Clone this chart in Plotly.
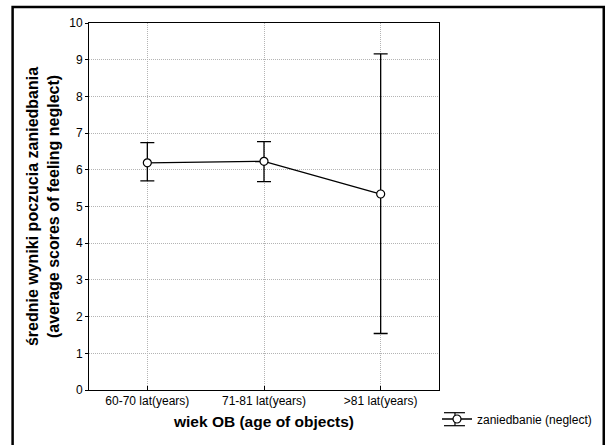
import plotly.graph_objects as go

categories = ["60-70 lat(years)", "71-81 lat(years)", ">81 lat(years)"]
means = [6.19, 6.23, 5.34]
upper = [6.74, 6.77, 9.16]
lower = [5.70, 5.68, 1.54]
series_name = "zaniedbanie (neglect)"

err_plus = [u - m for u, m in zip(upper, means)]
err_minus = [m - l for m, l in zip(means, lower)]

W, H = 610, 445
L, R, T, B = 88.5, 171, 23, 55
pw, ph = W - L - R, H - T - B

def px(x):
    return (x - L) / pw

def py(y):
    return (H - B - y) / ph

fig = go.Figure()
fig.add_trace(go.Scatter(
    x=list(range(len(categories))), y=means, name=series_name,
    mode="lines+markers",
    line=dict(color="black", width=1.3),
    marker=dict(symbol="circle", size=8, color="white", line=dict(color="black", width=1.2)),
    error_y=dict(type="data", symmetric=False, array=err_plus, arrayminus=err_minus,
                 color="black", thickness=1.3, width=7),
    showlegend=True,
))

font = "Liberation Sans, Arial, sans-serif"
gx = 455  # legend glyph centre (px)
glyph = dict(color="black", width=1.2)
fig.update_layout(
    width=W, height=H,
    margin=dict(l=L, r=R, t=T, b=B, pad=0),
    paper_bgcolor="white", plot_bgcolor="white",
    font=dict(family=font, size=12, color="black"),
    xaxis=dict(range=[-0.5, 2.5], tickvals=list(range(len(categories))), ticktext=categories,
               showgrid=True, gridcolor="#b4b4b4", griddash="1px,1px", gridwidth=1,
               showline=True, linecolor="black", linewidth=1, mirror=True,
               ticks="inside", ticklen=4, tickcolor="black", zeroline=False,
               tickfont=dict(size=12),
               title=dict(text="<b>wiek OB (age of objects)</b>", font=dict(size=15.5), standoff=8)),
    yaxis=dict(range=[0, 10], tickvals=list(range(0, 11)), showgrid=True, gridcolor="#b4b4b4",
               griddash="1px,1px", gridwidth=1, showline=True, linecolor="black", linewidth=1,
               mirror=True, ticks="outside", ticklen=3, tickcolor="black", zeroline=False,
               tickfont=dict(size=12),
               title=dict(text="<b>średnie wyniki poczucia zaniedbania<br>(average scores of feeling neglect)</b>",
                          font=dict(size=16), standoff=5)),
    legend=dict(x=px(437), y=py(419), xanchor="left", yanchor="middle",
                bgcolor="rgba(0,0,0,0)", font=dict(size=12), itemwidth=30,
                tracegroupgap=0),
    shapes=[
        dict(type="rect", xref="paper", yref="paper", x0=px(12), x1=px(604), y0=py(448), y1=py(7),
             line=dict(color="black", width=2.5), fillcolor="rgba(0,0,0,0)", layer="above"),
        dict(type="line", xref="paper", yref="paper", x0=px(gx - 11), x1=px(gx + 10),
             y0=py(412.7), y1=py(412.7), line=glyph),
        dict(type="line", xref="paper", yref="paper", x0=px(gx - 11), x1=px(gx + 10),
             y0=py(425.7), y1=py(425.7), line=glyph),
        dict(type="line", xref="paper", yref="paper", x0=px(gx), x1=px(gx),
             y0=py(412.7), y1=py(425.7), line=glyph),
    ],
)

fig.write_html("out.html")
